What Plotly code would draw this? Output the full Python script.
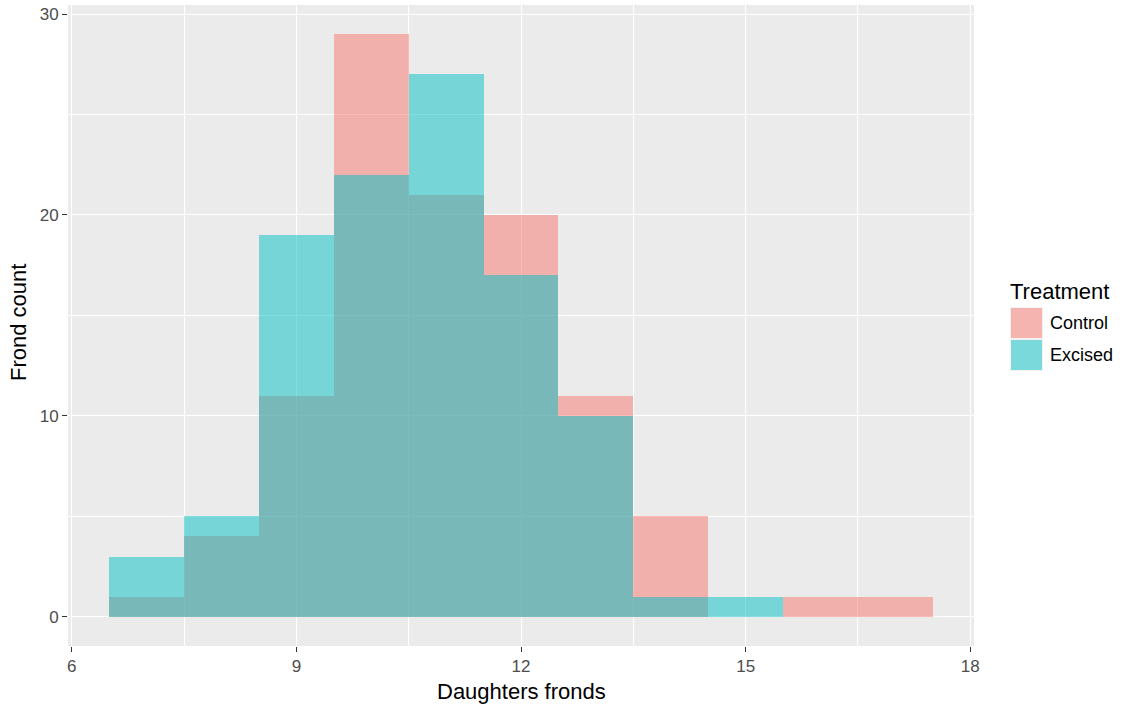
import plotly.graph_objects as go

bin_centers = [7, 8, 9, 10, 11, 12, 13, 14, 15, 16, 17]
control = [1, 4, 11, 29, 21, 20, 11, 5, 0, 1, 1]
excised = [3, 5, 19, 22, 27, 17, 10, 1, 1, 0, 0]
series_names = ["Control", "Excised"]
colors = ["#F8766D", "#00BFC4"]
x_ticks = [6, 9, 12, 15, 18]
y_ticks = [0, 10, 20, 30]

L, R, T, B = 68, 974, 5, 646
PW, PH = R - L, B - T

fig = go.Figure()
for name, vals, col in zip(series_names, [control, excised], colors):
    fig.add_trace(go.Bar(x=bin_centers, y=vals, width=1, name=name,
                         marker=dict(color=col, opacity=0.5, line=dict(width=0)),
                         showlegend=False))

fig.update_layout(
    width=1125, height=708,
    barmode="overlay", bargap=0,
    paper_bgcolor="white", plot_bgcolor="#EBEBEB",
    margin=dict(l=L, r=1125 - R, t=T, b=708 - B, autoexpand=False),
    font=dict(family="Liberation Sans, Arial, sans-serif"),
    xaxis=dict(range=[5.95, 18.05], tickvals=x_ticks, ticktext=[str(v) for v in x_ticks],
               showgrid=True, gridcolor="white", gridwidth=1.2, zeroline=False,
               ticks="outside", ticklen=5, tickcolor="#333333", tickwidth=1.3,
               tickfont=dict(size=17, color="#4D4D4D"), automargin=False,
               minor=dict(dtick=1.5, tick0=6, showgrid=True, gridcolor="white", gridwidth=0.6)),
    yaxis=dict(range=[-1.45, 30.45], tickvals=y_ticks, ticktext=[str(v) for v in y_ticks],
               showgrid=True, gridcolor="white", gridwidth=1.2, zeroline=False,
               ticks="outside", ticklen=5, tickcolor="#333333", tickwidth=1.3,
               tickfont=dict(size=17, color="#4D4D4D"), automargin=False,
               minor=dict(dtick=5, tick0=0, showgrid=True, gridcolor="white", gridwidth=0.6)),
)

def px(xp):
    return (xp - L) / PW

def py(yp):
    return 1 - (yp - T) / PH

# axis titles
fig.add_annotation(xref="paper", yref="paper", x=px(521), y=py(691), text="Daughters fronds",
                   showarrow=False, xanchor="center", yanchor="middle",
                   font=dict(size=22, color="black"))
fig.add_annotation(xref="paper", yref="paper", x=px(18), y=py(323), text="Frond count",
                   showarrow=False, xanchor="center", yanchor="middle", textangle=-90,
                   font=dict(size=22, color="black"))

# manual ggplot-style legend
lx0 = 1010
fig.add_annotation(xref="paper", yref="paper", x=px(lx0 - 2), y=py(291),
                   text="Treatment", showarrow=False, xanchor="left", yanchor="middle",
                   font=dict(size=22, color="black"))
for i, (name, col) in enumerate(zip(series_names, colors)):
    top = 307 + i * 32
    fig.add_shape(type="rect", xref="paper", yref="paper",
                  x0=px(lx0), x1=px(lx0 + 33), y0=py(top), y1=py(top + 32),
                  fillcolor="#F2F2F2", line=dict(width=0), layer="above")
    fig.add_shape(type="rect", xref="paper", yref="paper",
                  x0=px(lx0 + 1), x1=px(lx0 + 32), y0=py(top + 1), y1=py(top + 31),
                  fillcolor=col, opacity=0.5, line=dict(width=0), layer="above")
    fig.add_annotation(xref="paper", yref="paper", x=px(1048),
                       y=py(top + 16), text=name, showarrow=False,
                       xanchor="left", yanchor="middle", font=dict(size=18, color="black"))

fig.write_html("out.html", config={"displayModeBar": False},
               post_script="document.body.style.margin='0';")
